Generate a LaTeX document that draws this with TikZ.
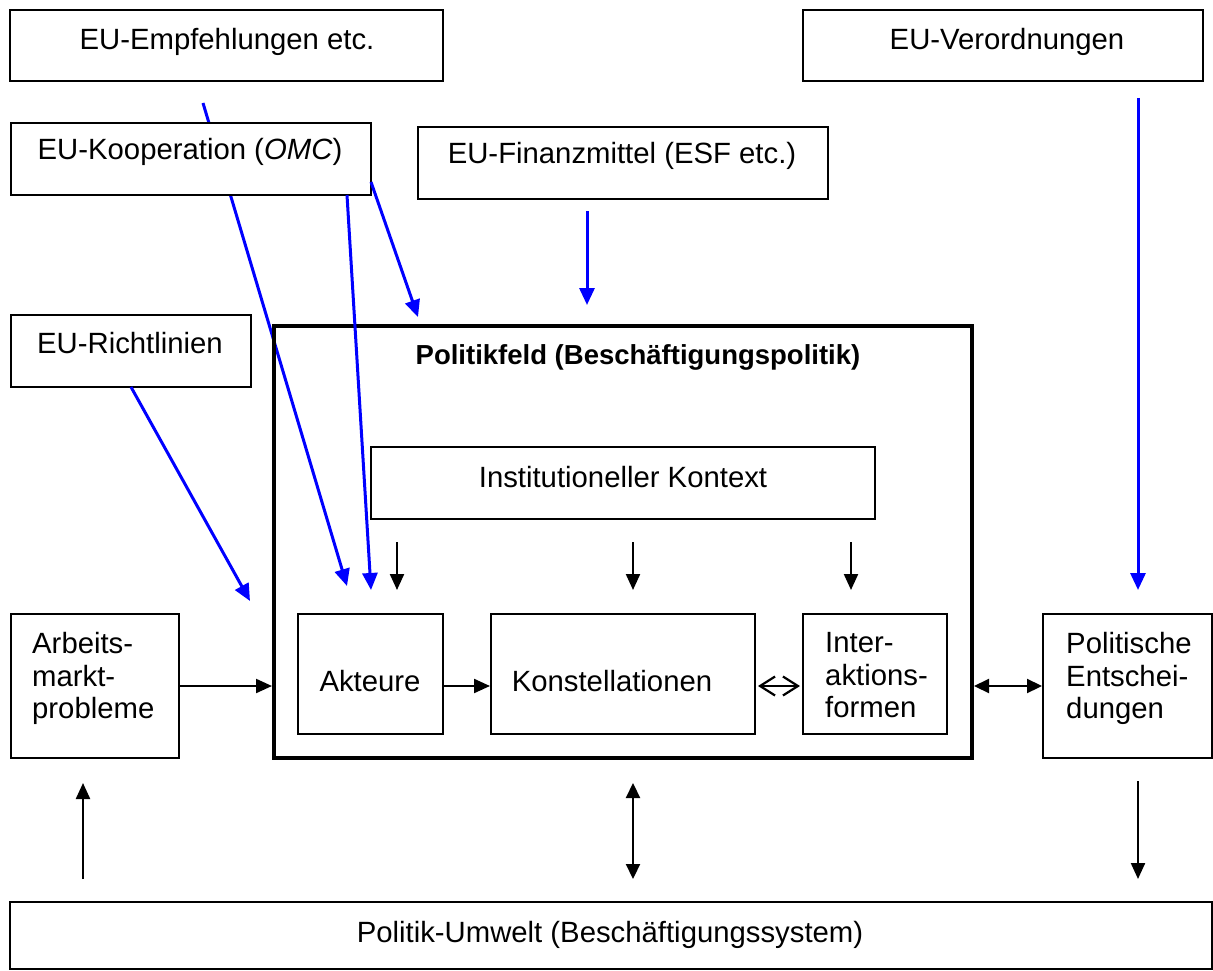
\documentclass[tikz,border=0pt]{standalone}
\usepackage{fontspec}
\setmainfont{Liberation Sans}
\usetikzlibrary{arrows.meta}
\definecolor{eublue}{RGB}{0,0,255}

\tikzset{
  box/.style={draw=black, line width=2pt, fill=white, inner sep=0pt},
  fieldbox/.style={draw=black, line width=4pt, inner sep=0pt},
  txt/.style={inner sep=0pt, font=\fontsize{29.3}{32.5}\selectfont},
  mtxt/.style={txt, align=left, anchor=north west},
  euarrow/.style={draw=eublue, line width=3pt, -{Triangle[length=17pt,width=15pt]}},
  blackarrow/.style={draw=black, line width=2.2pt, -{Triangle[length=16pt,width=14pt]}},
  dblarrow/.style={draw=black, line width=2.2pt, {Triangle[length=15pt,width=14pt]}-{Triangle[length=15pt,width=14pt]}},
  openarrow/.style={draw=black, line width=2.2pt, {Straight Barb[length=15pt,width=19pt]}-{Straight Barb[length=15pt,width=19pt]}, shorten <=2pt, shorten >=2pt},
}

\begin{document}
\begin{tikzpicture}[x=1pt, y=-1pt]
\useasboundingbox (0,0) rectangle (1213,971);

% free ends of the floating arrows
\coordinate (empfOut)  at (203,103);
\coordinate (aktIn1)   at (347,586);
\coordinate (aktIn2)   at (371,590);
\coordinate (feldIn)   at (418,317);
\coordinate (finOut)   at (587,211);
\coordinate (finIn)    at (587,305);
\coordinate (richtOut) at (131,387);
\coordinate (richtIn)  at (250,601);
\coordinate (verOut)   at (1138,98);
\coordinate (verIn)    at (1138,590);
\coordinate (ctxA)     at (397,542);
\coordinate (ctxAe)    at (397,590);
\coordinate (ctxB)     at (633,542);
\coordinate (ctxBe)    at (633,590);
\coordinate (ctxC)     at (851,542);
\coordinate (ctxCe)    at (851,590);
\coordinate (arbUp)    at (83,879);
\coordinate (arbUpE)   at (83,783);
\coordinate (feldDn)   at (633,783);
\coordinate (feldDnE)  at (633,879);
\coordinate (polDn)    at (1138,781);
\coordinate (polDnE)   at (1138,879);
\coordinate (koopOut2) at (347,195);
\coordinate (koopOut3) at (371,182);

% recommendations run behind the cooperation box
\draw[euarrow] (empfOut) -- (aktIn1);

% European level
\node[box, minimum width=433pt, minimum height=71pt] (empf) at (226.5,45.5) {};
\node[txt] (empfT) at (227,42) {EU-Empfehlungen etc.};
\node[box, minimum width=400pt, minimum height=71pt] (verord) at (1003,45.5) {};
\node[txt] (verordT) at (1007,42) {EU-Verordnungen};
\node[box, minimum width=360pt, minimum height=72pt] (koop) at (191,159) {};
\node[txt] (koopT) at (190,152) {EU-Kooperation (\textit{OMC})};
\node[box, minimum width=410pt, minimum height=72pt] (finanz) at (623,163) {};
\node[txt] (finanzT) at (622,156) {EU-Finanzmittel (ESF etc.)};
\node[box, minimum width=240pt, minimum height=72pt] (richt) at (131,351) {};
\node[txt] (richtT) at (130,343) {EU-Richtlinien};

% policy field
\node[fieldbox, minimum width=698pt, minimum height=432pt] (feld) at (623,542) {};
\node[txt, font=\fontsize{27.5}{32.5}\selectfont\bfseries] (feldT) at (638,357) {Politikfeld (Beschäftigungspolitik)};
\node[box, minimum width=504pt, minimum height=72pt] (kontext) at (623,483) {};
\node[txt] (kontextT) at (623,477) {Institutioneller Kontext};
\node[box, minimum width=145pt, minimum height=120pt] (akt) at (370.5,674) {};
\node[txt] (aktT) at (370,681) {Akteure};
\node[box, minimum width=264pt, minimum height=120pt] (konst) at (623,674) {};
\node[txt] (konstT) at (612,681) {Konstellationen};
\node[box, minimum width=144pt, minimum height=120pt] (inter) at (875,674) {};
\node[mtxt] (interT) at (825,632.5) {Inter-\\aktions-\\formen};

% problems, decisions, environment
\node[box, minimum width=168pt, minimum height=144pt] (arb) at (95,686) {};
\node[mtxt] (arbT) at (32,632.5) {Arbeits-\\markt-\\probleme};
\node[box, minimum width=169pt, minimum height=144pt] (polit) at (1127.5,686) {};
\node[mtxt] (politT) at (1066,632.5) {Politische\\Entschei-\\dungen};
\node[box, minimum width=1202pt, minimum height=67pt] (umwelt) at (611,935.5) {};
\node[txt] (umweltT) at (610,935) {Politik-Umwelt (Beschäftigungssystem)};

% European influences
\draw[euarrow] (koopOut2) -- (aktIn2);
\draw[euarrow] (koopOut3) -- (feldIn);
\draw[euarrow] (finOut) -- (finIn);
\draw[euarrow] (richtOut) -- (richtIn);
\draw[euarrow] (verOut) -- (verIn);

% institutional context acts on the three elements
\draw[blackarrow] (ctxA) -- (ctxAe);
\draw[blackarrow] (ctxB) -- (ctxBe);
\draw[blackarrow] (ctxC) -- (ctxCe);

% horizontal flow
\draw[blackarrow] (arb.east) -- (arb.east -| feld.west);
\draw[blackarrow] (akt.east |- arb.east) -- (konst.west |- arb.east);
\draw[openarrow] (konst.east |- arb.east) -- (inter.west |- arb.east);
\draw[dblarrow] (feld.east |- polit.west) -- (polit.west);

% links to the environment
\draw[blackarrow] (arbUp) -- (arbUpE);
\draw[dblarrow] (feldDn) -- (feldDnE);
\draw[blackarrow] (polDn) -- (polDnE);
\end{tikzpicture}
\end{document}
